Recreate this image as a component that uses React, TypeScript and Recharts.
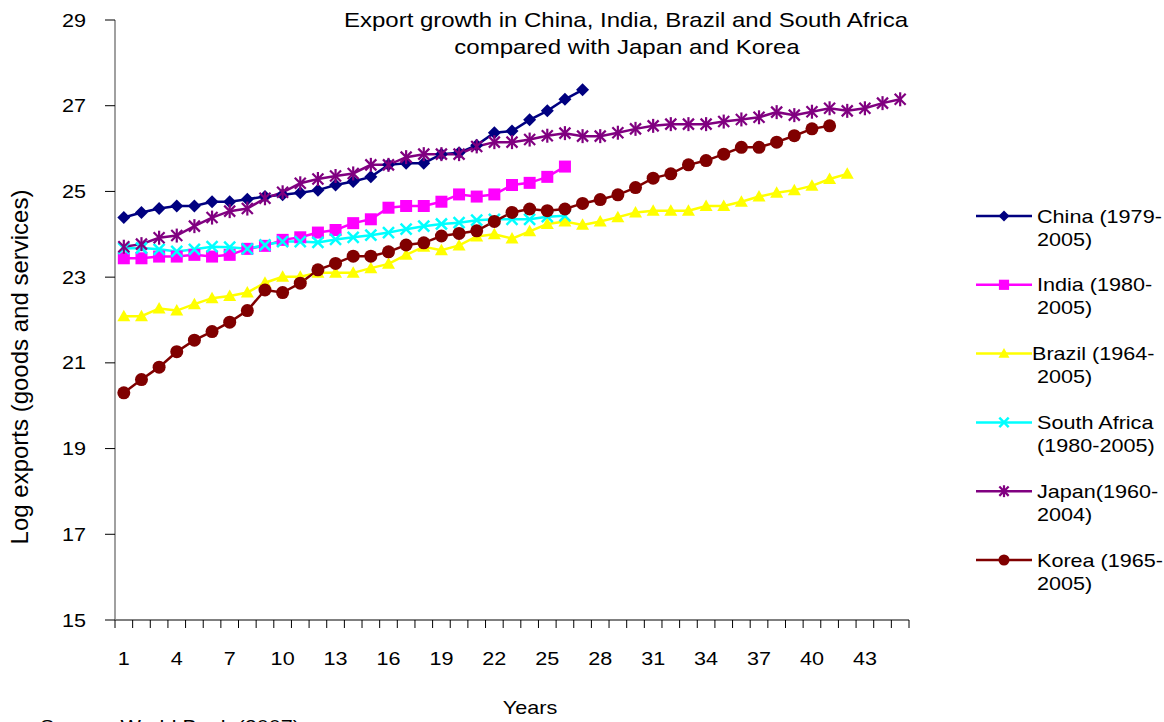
import React from 'react';
import { LineChart, Line, XAxis, YAxis, Legend } from 'recharts';

const YEARS = [1, 2, 3, 4, 5, 6, 7, 8, 9, 10, 11, 12, 13, 14, 15, 16, 17, 18, 19, 20, 21, 22, 23, 24, 25, 26, 27, 28, 29, 30, 31, 32, 33, 34, 35, 36, 37, 38, 39, 40, 41, 42, 43, 44, 45];

const CHINA = [24.39, 24.51, 24.6, 24.66, 24.66, 24.76, 24.76, 24.82, 24.88, 24.92, 24.97, 25.03, 25.15, 25.23, 25.34, 25.62, 25.66, 25.66, 25.87, 25.9, 26.08, 26.37, 26.41, 26.67, 26.88, 27.15, 27.37];
const INDIA = [23.44, 23.44, 23.48, 23.48, 23.52, 23.48, 23.52, 23.66, 23.73, 23.87, 23.93, 24.04, 24.1, 24.26, 24.35, 24.62, 24.66, 24.66, 24.76, 24.93, 24.88, 24.93, 25.15, 25.2, 25.34, 25.58];
const BRAZIL = [22.09, 22.09, 22.27, 22.22, 22.37, 22.51, 22.56, 22.64, 22.87, 23.01, 23.01, 23.1, 23.1, 23.1, 23.21, 23.31, 23.52, 23.71, 23.63, 23.74, 23.95, 24.0, 23.9, 24.07, 24.24, 24.3, 24.22, 24.3, 24.4, 24.51, 24.55, 24.55, 24.55, 24.66, 24.66, 24.76, 24.88, 24.97, 25.03, 25.13, 25.29, 25.41];
const SOUTH_AFRICA = [23.67, 23.68, 23.65, 23.6, 23.65, 23.71, 23.7, 23.66, 23.75, 23.83, 23.83, 23.81, 23.88, 23.93, 23.98, 24.04, 24.12, 24.19, 24.24, 24.27, 24.33, 24.35, 24.35, 24.35, 24.41, 24.43];
const JAPAN = [23.71, 23.77, 23.92, 23.97, 24.19, 24.39, 24.54, 24.6, 24.84, 24.98, 25.19, 25.29, 25.36, 25.42, 25.62, 25.62, 25.8, 25.87, 25.87, 25.87, 26.05, 26.15, 26.15, 26.21, 26.3, 26.36, 26.29, 26.29, 26.37, 26.46, 26.53, 26.57, 26.57, 26.57, 26.63, 26.68, 26.73, 26.85, 26.78, 26.86, 26.94, 26.88, 26.94, 27.06, 27.15];
const KOREA = [20.3, 20.61, 20.9, 21.26, 21.53, 21.73, 21.95, 22.22, 22.7, 22.64, 22.86, 23.17, 23.32, 23.49, 23.49, 23.59, 23.75, 23.8, 23.96, 24.02, 24.08, 24.3, 24.51, 24.59, 24.55, 24.59, 24.72, 24.81, 24.92, 25.09, 25.31, 25.41, 25.62, 25.72, 25.87, 26.03, 26.03, 26.15, 26.3, 26.46, 26.53];

const X_TICK_LABELS = [1, 4, 7, 10, 13, 16, 19, 22, 25, 28, 31, 34, 37, 40, 43];
const Y_TICKS = [15, 17, 19, 21, 23, 25, 27, 29];

const TITLE_1 = 'Export growth in China, India, Brazil and South Africa';
const TITLE_2 = 'compared with Japan and Korea';
const Y_LABEL = 'Log exports (goods and services)';
const X_LABEL = 'Years';
const SOURCE = 'Source: World Bank (2007)';

type Shape = 'diamond' | 'square' | 'triangle' | 'x' | 'star' | 'circle';

const SERIES: { key: string; line1: string; line2: string; color: string; shape: Shape; values: number[] }[] = [
  { key: 'china', line1: 'China (1979-', line2: '2005)', color: '#000080', shape: 'diamond', values: CHINA },
  { key: 'india', line1: 'India (1980-', line2: '2005)', color: '#FF00FF', shape: 'square', values: INDIA },
  { key: 'brazil', line1: 'Brazil (1964-', line2: '2005)', color: '#FFFF00', shape: 'triangle', values: BRAZIL },
  { key: 'southAfrica', line1: 'South Africa', line2: '(1980-2005)', color: '#00FFFF', shape: 'x', values: SOUTH_AFRICA },
  { key: 'japan', line1: 'Japan(1960-', line2: '2004)', color: '#800080', shape: 'star', values: JAPAN },
  { key: 'korea', line1: 'Korea (1965-', line2: '2005)', color: '#800000', shape: 'circle', values: KOREA },
];

const data = YEARS.map((yr, i) => {
  const row: Record<string, number> = { year: yr };
  SERIES.forEach((s) => {
    if (i < s.values.length) row[s.key] = s.values[i];
  });
  return row;
});

const X_BOUNDARIES = [0, ...YEARS].map((v) => v + 0.5);
const X_ALL_TICKS = [...X_BOUNDARIES, ...X_TICK_LABELS].sort((a, b) => a - b);

const FONT = '"Liberation Sans", Arial, Helvetica, sans-serif';
const SX = 1.2;

function SText({ x, y, size, anchor = 'start', children }: { x: number; y: number; size: number; anchor?: 'start' | 'middle' | 'end'; children: React.ReactNode }) {
  return (
    <text transform={`translate(${x},${y}) scale(${SX},1)`} x={0} y={0} textAnchor={anchor} fontSize={size} fontFamily={FONT} fill="#000">
      {children}
    </text>
  );
}

function Marker({ shape, color, cx, cy, k = 1 }: { shape: Shape; color: string; cx: number; cy: number; k?: number }) {
  switch (shape) {
    case 'diamond': {
      const d = 6.5 * k;
      return <polygon points={`${cx},${cy - d} ${cx + d},${cy} ${cx},${cy + d} ${cx - d},${cy}`} fill={color} />;
    }
    case 'square': {
      const h = 6 * k;
      return <rect x={cx - h} y={cy - h} width={2 * h} height={2 * h} fill={color} />;
    }
    case 'triangle': {
      const w = 6.5 * k;
      return <polygon points={`${cx},${cy - 6.5 * k} ${cx + w},${cy + 5 * k} ${cx - w},${cy + 5 * k}`} fill={color} />;
    }
    case 'x': {
      const d = 5.5 * k;
      return (
        <g stroke={color} strokeWidth={2.5}>
          <line x1={cx - d} y1={cy - d} x2={cx + d} y2={cy + d} />
          <line x1={cx - d} y1={cy + d} x2={cx + d} y2={cy - d} />
        </g>
      );
    }
    case 'star': {
      const d = 5.5 * k;
      return (
        <g stroke={color} strokeWidth={2.2}>
          <line x1={cx - d} y1={cy - d} x2={cx + d} y2={cy + d} />
          <line x1={cx - d} y1={cy + d} x2={cx + d} y2={cy - d} />
          <line x1={cx} y1={cy - 7 * k} x2={cx} y2={cy + 7 * k} />
        </g>
      );
    }
    case 'circle':
    default:
      return <circle cx={cx} cy={cy} r={6.5 * k} fill={color} />;
  }
}

function XTick(props: any) {
  const { x, y, payload } = props;
  const v = payload.value as number;
  if (!Number.isInteger(v)) {
    return <line x1={x} y1={y} x2={x} y2={y + 8} stroke="#000" strokeWidth={1} />;
  }
  return (
    <SText x={x} y={y + 45} size={18} anchor="middle">
      {v}
    </SText>
  );
}

function YTick(props: any) {
  const { x, y, payload } = props;
  return (
    <SText x={x} y={y + 6.5} size={18} anchor="end">
      {payload.value}
    </SText>
  );
}

const LEGEND_LEFT = 960;
const LEGEND_TOP = 190;

function LegendContent() {
  return (
    <svg width={204} height={420} style={{ display: 'block', overflow: 'visible' }}>
      {SERIES.map((s, i) => {
        const ly = 216 + 68.8 * i - LEGEND_TOP;
        const tx = s.shape === 'triangle' ? 72 : 77;
        return (
          <g key={s.key}>
            <line x1={16} y1={ly} x2={72} y2={ly} stroke={s.color} strokeWidth={2.5} />
            <Marker shape={s.shape} color={s.color} cx={44} cy={ly} k={0.85} />
            <SText x={tx} y={ly + 6.5} size={18}>{s.line1}</SText>
            <SText x={77} y={ly + 29.5} size={18}>{s.line2}</SText>
          </g>
        );
      })}
    </svg>
  );
}

export default function App() {
  return (
    <div style={{ position: 'fixed', left: 0, top: 0, width: 1164, height: 722, overflow: 'hidden', background: '#fff' }}>
      <LineChart width={1164} height={722} data={data} margin={{ top: 20, right: 255, bottom: 42, left: 15 }}>
        <XAxis
          dataKey="year"
          type="number"
          domain={[0.5, 45.5]}
          ticks={X_ALL_TICKS}
          interval={0}
          tick={<XTick />}
          tickLine={false}
          tickSize={0}
          tickMargin={0}
          axisLine={{ stroke: '#000', strokeWidth: 1 }}
          height={60}
        />
        <YAxis
          type="number"
          domain={[15, 29]}
          ticks={Y_TICKS}
          interval={0}
          width={100}
          tickSize={10}
          tickMargin={19}
          tick={<YTick />}
          tickLine={{ stroke: '#000', strokeWidth: 1 }}
          axisLine={{ stroke: '#808080', strokeWidth: 1.5 }}
        />
        <Legend
          layout="vertical"
          align="center"
          verticalAlign="middle"
          content={<LegendContent />}
          wrapperStyle={{ position: 'absolute', left: LEGEND_LEFT, top: LEGEND_TOP, width: 204, height: 420 }}
        />
        {SERIES.map((s) => (
          <Line
            key={s.key}
            dataKey={s.key}
            name={`${s.line1} ${s.line2}`}
            stroke={s.color}
            strokeWidth={2.5}
            isAnimationActive={false}
            activeDot={false}
            connectNulls={false}
            dot={(p: any) =>
              p.cy == null || p.value == null ? (
                <g key={`${s.key}-${p.index}`} />
              ) : (
                <g key={`${s.key}-${p.index}`}>
                  <Marker shape={s.shape} color={s.color} cx={p.cx} cy={p.cy} />
                </g>
              )
            }
          />
        ))}
      </LineChart>
      <svg width={1164} height={722} style={{ position: 'absolute', left: 0, top: 0, pointerEvents: 'none' }}>
        <SText x={626} y={27} size={20} anchor="middle">{TITLE_1}</SText>
        <SText x={627} y={54} size={20} anchor="middle">{TITLE_2}</SText>
        <text transform="translate(28,367) rotate(-90)" textAnchor="middle" fontSize={24} fontFamily={FONT} fill="#000">
          {Y_LABEL}
        </text>
        <SText x={530} y={714} size={18} anchor="middle">{X_LABEL}</SText>
        <SText x={40} y={733} size={18}>{SOURCE}</SText>
      </svg>
    </div>
  );
}
